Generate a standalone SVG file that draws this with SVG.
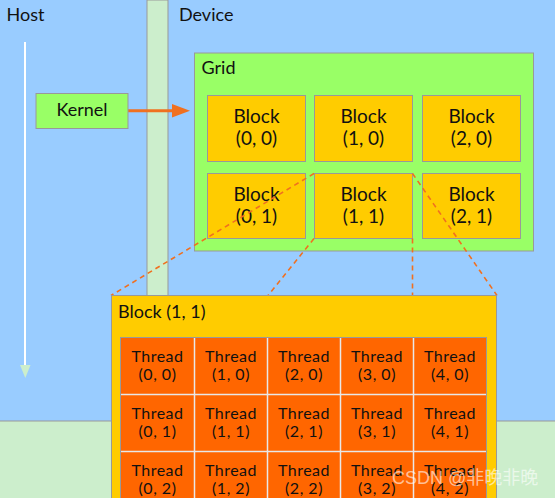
<svg xmlns="http://www.w3.org/2000/svg" width="555" height="498" viewBox="0 0 555 498">
<defs>
<style>
text{font-family:Lato,"Open Sans","Noto Sans CJK SC",sans-serif;fill:#111}
.box{stroke:#999;stroke-width:1}
.blk{fill:#FFCC00;stroke:#999;stroke-width:1}
.bt{font-size:19px;text-anchor:middle}
.tt{font-size:16px;letter-spacing:0.5px;text-anchor:middle}
.lbl{font-size:18px}
.dash{stroke:#F07020;stroke-width:1.6;stroke-dasharray:5,4;fill:none}
</style>
</defs>
<!-- background -->
<rect x="0" y="0" width="555" height="498" fill="#99CCFF"/>
<rect x="0" y="421" width="555" height="77" fill="#CCEECC"/>
<line x1="0" y1="421" x2="555" y2="421" stroke="#999"/>
<rect x="147" y="0" width="21" height="421" fill="#CCEECC" stroke="#999"/>
<text class="lbl" x="6.5" y="21">Host</text>
<text class="lbl" x="179" y="21">Device</text>
<!-- time arrow -->
<line x1="25" y1="42" x2="25" y2="365" stroke="#fff" stroke-width="2"/>
<path d="M20,365 L30.5,365 L25.3,378 Z" fill="#CCEECC"/>
<g id="connectors">
<line x1="128" y1="110.7" x2="176" y2="110.7" stroke="#F07020" stroke-width="3"/>
<path d="M172,104 L190,110.7 L172,117.5 Z" fill="#F07020"/>
</g>
<g id="kernel">
<rect class="box" x="36" y="93.5" width="92" height="35" fill="#99FF66"/>
<text class="lbl" x="82" y="116" style="text-anchor:middle">Kernel</text>
</g>
<g id="grid">
<rect class="box" x="194.5" y="53" width="339" height="198" fill="#99FF66"/>
<text class="lbl" x="201.5" y="73.5">Grid</text>
</g>
<g id="block00"><rect class="blk" x="207.5" y="95.5" width="98" height="66"/><text class="bt" x="256.5" y="123">Block</text><text class="bt" x="256.5" y="144.5">(0, 0)</text></g>
<g id="block10"><rect class="blk" x="314.5" y="95.5" width="98" height="66"/><text class="bt" x="363.5" y="123">Block</text><text class="bt" x="363.5" y="144.5">(1, 0)</text></g>
<g id="block20"><rect class="blk" x="422.5" y="95.5" width="98" height="66"/><text class="bt" x="471.5" y="123">Block</text><text class="bt" x="471.5" y="144.5">(2, 0)</text></g>
<g id="block01"><rect class="blk" x="207.5" y="173.5" width="98" height="65"/><text class="bt" x="256.5" y="201">Block</text><text class="bt" x="256.5" y="222.5">(0, 1)</text></g>
<g id="block11"><rect class="blk" x="314.5" y="173.5" width="98" height="65"/><text class="bt" x="363.5" y="201">Block</text><text class="bt" x="363.5" y="222.5">(1, 1)</text></g>
<g id="block21"><rect class="blk" x="422.5" y="173.5" width="98" height="65"/><text class="bt" x="471.5" y="201">Block</text><text class="bt" x="471.5" y="222.5">(2, 1)</text></g>
<g id="zoom-lines">
<line class="dash" x1="314" y1="173.5" x2="111" y2="295.5"/>
<line class="dash" x1="314" y1="238.5" x2="268" y2="295.5"/>
<line class="dash" x1="412.5" y1="238.5" x2="412.5" y2="295.5"/>
<line class="dash" x1="412.5" y1="173.5" x2="497" y2="295.5"/>
</g>
<g id="block11-detail">
<rect x="111.5" y="295.5" width="385" height="210" fill="#FFCC00" stroke="#999"/>
<text class="lbl" x="118" y="317.5">Block (1, 1)</text>
<rect x="120.5" y="337.5" width="366" height="171" fill="#FF6600" stroke="#999"/>
<g stroke="#E8E8E8" stroke-width="1.5">
<line x1="194.5" y1="338" x2="194.5" y2="498"/>
<line x1="267.5" y1="338" x2="267.5" y2="498"/>
<line x1="340.5" y1="338" x2="340.5" y2="498"/>
<line x1="413.5" y1="338" x2="413.5" y2="498"/>
<line x1="121" y1="394.5" x2="486" y2="394.5"/>
<line x1="121" y1="451.5" x2="486" y2="451.5"/>
</g>
</g>
<g id="threads">
<g id="t00"><text class="tt" x="157.5" y="362">Thread</text><text class="tt" x="157.5" y="379.5">(0, 0)</text></g>
<g id="t10"><text class="tt" x="231" y="362">Thread</text><text class="tt" x="231" y="379.5">(1, 0)</text></g>
<g id="t20"><text class="tt" x="304" y="362">Thread</text><text class="tt" x="304" y="379.5">(2, 0)</text></g>
<g id="t30"><text class="tt" x="377" y="362">Thread</text><text class="tt" x="377" y="379.5">(3, 0)</text></g>
<g id="t40"><text class="tt" x="450" y="362">Thread</text><text class="tt" x="450" y="379.5">(4, 0)</text></g>
<g id="t01"><text class="tt" x="157.5" y="419">Thread</text><text class="tt" x="157.5" y="436.5">(0, 1)</text></g>
<g id="t11"><text class="tt" x="231" y="419">Thread</text><text class="tt" x="231" y="436.5">(1, 1)</text></g>
<g id="t21"><text class="tt" x="304" y="419">Thread</text><text class="tt" x="304" y="436.5">(2, 1)</text></g>
<g id="t31"><text class="tt" x="377" y="419">Thread</text><text class="tt" x="377" y="436.5">(3, 1)</text></g>
<g id="t41"><text class="tt" x="450" y="419">Thread</text><text class="tt" x="450" y="436.5">(4, 1)</text></g>
<g id="t02"><text class="tt" x="157.5" y="476">Thread</text><text class="tt" x="157.5" y="493.5">(0, 2)</text></g>
<g id="t12"><text class="tt" x="231" y="476">Thread</text><text class="tt" x="231" y="493.5">(1, 2)</text></g>
<g id="t22"><text class="tt" x="304" y="476">Thread</text><text class="tt" x="304" y="493.5">(2, 2)</text></g>
<g id="t32"><text class="tt" x="377" y="476">Thread</text><text class="tt" x="377" y="493.5">(3, 2)</text></g>
<g id="t42"><text class="tt" x="450" y="476">Thread</text><text class="tt" x="450" y="493.5">(4, 2)</text></g>
</g>
<text x="392" y="484" style="font-size:18px;fill:#fff;fill-opacity:0.6;font-family:'Liberation Sans','Noto Sans CJK SC',sans-serif">CSDN @非晚非晚</text>
</svg>
